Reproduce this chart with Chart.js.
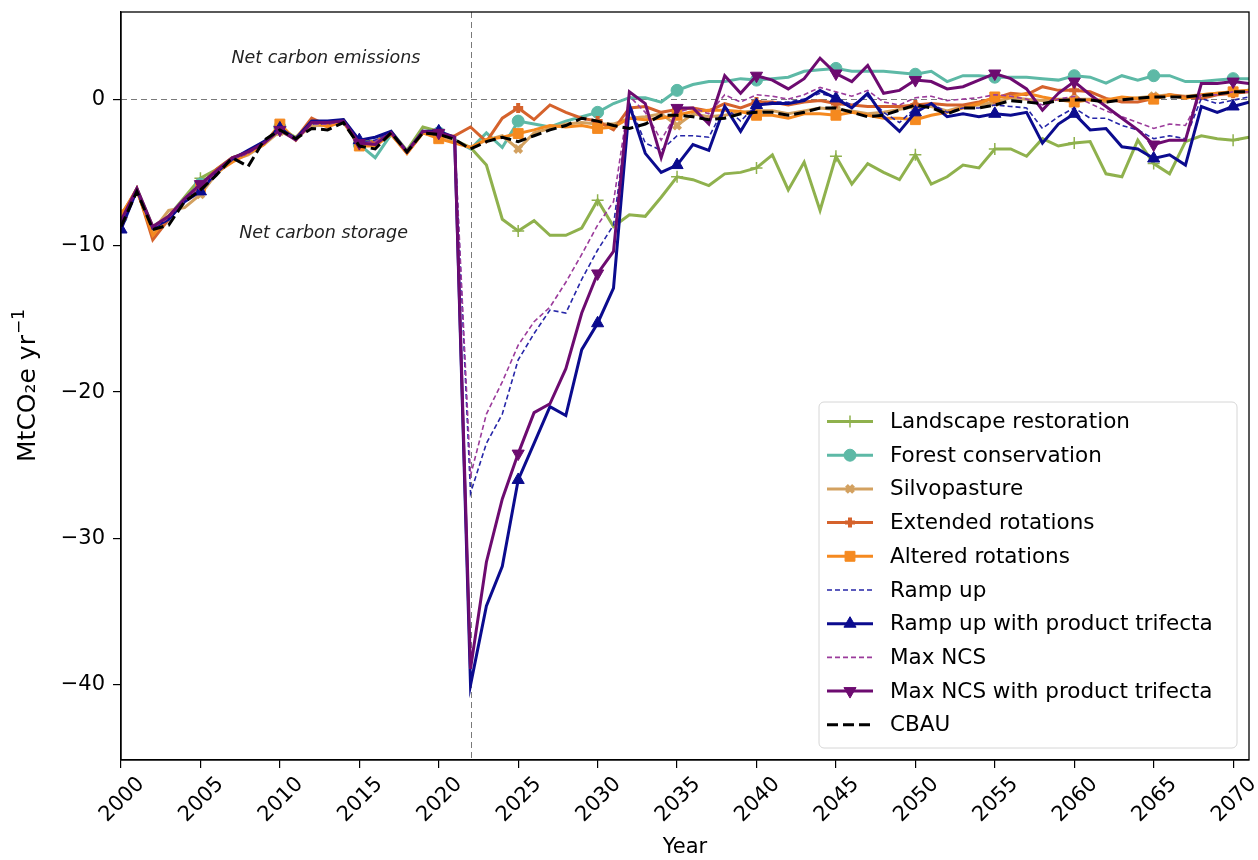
<!DOCTYPE html>
<html>
<head>
<meta charset="utf-8">
<script src="https://cdn.jsdelivr.net/npm/chart.js@4/dist/chart.umd.min.js"></script>
<style>
  html, body { margin: 0; padding: 0; background: #fff; }
  #wrap { width: 1258px; height: 860px; }
</style>
</head>
<body>
<div id="wrap"><canvas id="c" width="1258" height="860"></canvas></div>
<script>
Chart.defaults.font.family = "'DejaVu Sans', sans-serif";
Chart.defaults.color = '#000';

const years = [2000,2001,2002,2003,2004,2005,2006,2007,2008,2009,2010,2011,2012,2013,2014,2015,2016,2017,2018,2019,
  2020,2021,2022,2023,2024,2025,2026,2027,2028,2029,2030,2031,2032,2033,2034,2035,2036,2037,2038,2039,
  2040,2041,2042,2043,2044,2045,2046,2047,2048,2049,2050,2051,2052,2053,2054,2055,2056,2057,2058,2059,
  2060,2061,2062,2063,2064,2065,2066,2067,2068,2069,2070,2071];
const xTicks = [2000,2005,2010,2015,2020,2025,2030,2035,2040,2045,2050,2055,2060,2065,2070];
const yTicks = [-40,-30,-20,-10,0];

const landscape = [-8.2,-6.1,-8.7,-8.0,-6.7,-5.4,-4.8,-4.0,-3.6,-2.9,-2.0,-2.6,-1.6,-1.7,-1.4,-2.9,-2.9,-2.2,-3.5,-1.9,-2.2,-2.8,
  -3.3,-4.5,-8.2,-9.0,-8.3,-9.3,-9.3,-8.8,-6.9,-8.7,-7.9,-8.0,-6.7,-5.3,-5.5,-5.9,-5.1,-5.0,
  -4.7,-3.8,-6.2,-4.3,-7.6,-3.9,-5.8,-4.4,-5.0,-5.5,-3.8,-5.8,-5.3,-4.5,-4.7,-3.4,-3.4,-3.9,-2.7,-3.2,
  -3.0,-2.9,-5.1,-5.3,-2.8,-4.4,-5.1,-2.9,-2.5,-2.7,-2.8,-2.6];
const forest = [-8.1,-6.2,-8.8,-8.0,-6.8,-5.8,-4.9,-4.1,-3.7,-3.0,-1.9,-2.7,-1.6,-1.7,-1.5,-3.1,-4.0,-2.4,-3.6,-2.2,-2.3,-2.8,
  -3.4,-2.3,-3.3,-1.5,-1.7,-1.9,-1.5,-1.2,-0.9,-0.3,0.1,0.1,-0.2,0.6,1.0,1.2,1.2,1.4,
  1.3,1.4,1.5,1.9,2.0,2.1,1.9,1.9,1.9,1.8,1.7,1.9,1.2,1.6,1.6,1.5,1.5,1.5,1.4,1.3,
  1.6,1.5,1.1,1.6,1.3,1.6,1.6,1.2,1.2,1.3,1.4,1.4];
const silvo = [-8.0,-6.3,-9.0,-7.6,-7.4,-6.5,-5.1,-4.2,-3.8,-3.1,-2.2,-2.7,-1.8,-1.8,-1.6,-3.1,-3.0,-2.4,-3.6,-2.3,-2.4,-2.9,
  -3.3,-2.8,-2.5,-3.4,-2.3,-2.0,-1.7,-1.6,-1.7,-1.7,-1.3,-1.2,-1.0,-1.8,-1.0,-1.2,-1.1,-0.9,
  -0.8,-0.8,-1.0,-0.8,-0.6,-0.7,-0.8,-1.0,-0.9,-0.7,-0.5,-0.5,-0.8,-0.5,-0.4,-0.2,0.1,0.0,-0.1,0.0,
  0.0,0.0,-0.2,0.0,0.1,0.2,0.3,0.2,0.3,0.4,0.5,0.6];
const extended = [-8.0,-6.1,-9.6,-8.2,-6.8,-5.9,-4.8,-4.0,-3.7,-3.0,-2.0,-2.7,-1.3,-1.8,-1.5,-3.0,-2.9,-2.3,-3.7,-2.3,-2.6,-2.5,
  -1.9,-2.9,-1.3,-0.6,-1.4,-0.4,-0.9,-1.3,-1.5,-2.1,-0.6,-0.5,-0.9,-0.7,-0.6,-0.8,-0.3,-0.6,
  -0.2,-0.2,-0.4,-0.2,-0.1,-0.3,-0.4,-0.5,-0.5,-0.5,-0.4,-0.3,-0.4,-0.4,-0.2,0.05,0.4,0.3,0.85,0.6,
  0.6,0.5,0.05,-0.2,-0.2,0.05,0.3,0.15,0.05,0.3,0.4,0.5];
const altered = [-7.9,-6.2,-9.3,-8.0,-6.9,-6.0,-5.0,-4.3,-3.7,-3.1,-1.7,-2.8,-1.5,-1.9,-1.5,-3.2,-3.2,-2.4,-3.7,-2.3,-2.7,-3.0,
  -3.3,-2.75,-2.6,-2.35,-2.1,-1.8,-1.9,-1.8,-2.0,-1.9,-1.3,-1.4,-1.3,-1.1,-0.85,-0.75,-0.75,-0.85,
  -1.1,-1.1,-1.3,-1.0,-1.0,-1.1,-0.9,-1.1,-1.3,-1.3,-1.4,-1.1,-0.9,-0.6,-0.3,0.15,0.15,0.4,0.15,-0.05,
  -0.2,-0.05,-0.05,0.15,0.05,0.0,0.3,0.05,0.3,0.4,0.5,0.6];
const rampUp = [-8.4,-6.2,-8.8,-8.1,-6.9,-6.0,-5.0,-4.1,-3.7,-3.0,-2.1,-2.7,-1.7,-1.7,-1.5,-3.0,-2.8,-2.3,-3.6,-2.2,-2.3,-2.6,
  -26.9,-23.5,-21.5,-17.8,-16.0,-14.4,-14.6,-12.3,-10.3,-8.6,-0.3,-3.0,-3.5,-2.5,-2.5,-2.6,-0.5,-1.5,
  -0.4,-0.2,-0.2,0.0,0.4,0.1,-0.4,0.2,-0.9,-1.6,-0.6,-0.3,-0.9,-0.6,-0.6,-0.4,-0.5,-0.6,-2.0,-1.2,
  -0.6,-1.3,-1.3,-1.8,-2.1,-2.7,-2.5,-2.7,0.05,-0.3,-0.07,0.15];
const rampUpTri = [-8.9,-6.2,-8.8,-8.2,-7.0,-6.3,-5.0,-4.1,-3.5,-2.9,-2.0,-2.7,-1.5,-1.5,-1.4,-2.8,-2.6,-2.2,-3.6,-2.2,-2.2,-2.6,
  -40.0,-34.6,-31.9,-26.0,-23.5,-21.0,-21.6,-17.1,-15.3,-12.9,-0.4,-3.7,-5.0,-4.5,-3.1,-3.5,-0.5,-2.2,
  -0.4,-0.3,-0.3,-0.1,0.6,0.05,-0.6,0.4,-1.2,-2.2,-0.9,-0.3,-1.2,-1.0,-1.2,-1.0,-1.1,-0.9,-3.0,-1.7,
  -1.0,-2.1,-2.0,-3.25,-3.4,-4.05,-3.8,-4.5,-0.5,-0.9,-0.5,-0.2];
const maxNcs = [-8.3,-6.2,-8.8,-8.1,-6.9,-6.0,-5.0,-4.1,-3.7,-3.0,-2.1,-2.7,-1.7,-1.7,-1.5,-3.0,-2.9,-2.3,-3.6,-2.2,-2.3,-2.6,
  -25.7,-21.5,-19.3,-16.8,-15.2,-14.2,-12.5,-10.6,-8.6,-7.0,0.2,-0.9,-2.8,-0.9,-0.6,-1.0,0.3,-0.2,
  0.3,0.2,0.0,0.3,0.8,0.5,0.2,0.6,-0.2,-0.4,0.1,0.2,-0.1,0.0,0.1,0.3,0.2,0.0,-0.4,0.0,
  0.2,-0.3,-0.8,-1.2,-1.6,-2.0,-1.7,-1.8,0.3,0.3,0.5,0.5];
const maxNcsTri = [-8.3,-6.1,-8.7,-8.0,-6.8,-5.8,-4.9,-4.0,-3.6,-3.0,-2.1,-2.8,-1.6,-1.6,-1.5,-3.0,-3.1,-2.3,-3.6,-2.2,-2.3,-2.6,
  -38.9,-31.6,-27.3,-24.2,-21.4,-20.8,-18.4,-14.6,-11.9,-10.4,0.5,-0.3,-4.0,-0.6,-0.6,-1.7,1.6,0.4,
  1.6,1.3,0.7,1.4,2.8,1.75,1.2,2.3,0.4,0.6,1.3,1.2,0.7,0.85,1.3,1.75,1.4,0.7,-0.75,0.4,
  1.2,0.3,-0.5,-1.3,-2.1,-3.1,-2.8,-2.8,1.07,1.07,1.2,1.07];
const cbau = [-8.7,-6.3,-8.9,-8.6,-7.0,-6.2,-5.2,-4.0,-4.6,-2.8,-2.1,-2.7,-2.0,-2.1,-1.6,-3.2,-3.4,-2.3,-3.6,-2.3,-2.4,-2.75,
  -3.4,-2.9,-2.6,-2.9,-2.5,-2.1,-1.8,-1.3,-1.5,-1.8,-2.0,-1.7,-1.1,-1.1,-1.2,-1.4,-1.3,-1.0,
  -0.9,-0.9,-1.1,-0.9,-0.6,-0.6,-0.9,-1.2,-1.1,-0.75,-0.4,-0.6,-1.0,-0.6,-0.6,-0.4,-0.1,-0.2,-0.3,-0.1,
  -0.05,-0.05,-0.2,-0.05,0.05,0.15,0.15,0.15,0.25,0.35,0.5,0.5];

// label, values, colour, line width, dash, marker style, marker radius, rotation, marker border
const seriesDefs = [
  ['Landscape restoration', landscape, '#8fb14d', 3, [], 'cross', 6, 0, 1.5],
  ['Forest conservation', forest, '#5db9a6', 3, [], 'circle', 6, 0, 1],
  ['Silvopasture', silvo, '#d3a160', 3, [], 'crossRot', 5, 0, 4],
  ['Extended rotations', extended, '#d5622c', 3, [], 'cross', 5, 0, 4],
  ['Altered rotations', altered, '#f5891f', 3, [], 'rect', 7, 0, 1],
  ['Ramp up', rampUp, '#2626a8', 1.6, [5, 3], false, 0, 0, 0],
  ['Ramp up with product trifecta', rampUpTri, '#0b0b8e', 3, [], 'triangle', 7, 0, 1],
  ['Max NCS', maxNcs, '#9b3b9b', 1.6, [5, 3], false, 0, 0, 0],
  ['Max NCS with product trifecta', maxNcsTri, '#6d0b70', 3, [], 'triangle', 7, 180, 1],
  ['CBAU', cbau, '#000000', 3, [11, 5], false, 0, 0, 0],
];

const datasets = seriesDefs.map(([label, vals, color, w, dash, ps, r, rot, pbw], i) => ({
  label,
  data: vals.map((v, j) => ({ x: years[j], y: v })),
  borderColor: color,
  backgroundColor: color,
  borderWidth: w,
  borderDash: dash,
  pointStyle: ps || 'circle',
  pointRotation: rot,
  pointBorderWidth: pbw,
  pointBorderColor: color,
  pointBackgroundColor: color,
  pointRadius: ctx => (ps && years[ctx.dataIndex] % 5 === 0 ? r : 0),
  pointHoverRadius: 0,
  tension: 0,
  fill: false,
  order: seriesDefs.length - i,
}));

// ── Reference lines, frame, annotations, axis titles and legend ──────────────
const decor = {
  id: 'decor',
  beforeDatasetsDraw(chart) {
    const { ctx, chartArea: a, scales: { x, y } } = chart;
    ctx.save();
    ctx.strokeStyle = '#7a7a7a';
    ctx.lineWidth = 1;
    ctx.setLineDash([6, 4]);
    const y0 = Math.round(y.getPixelForValue(0)) + 0.5;
    const x0 = Math.round(x.getPixelForValue(2022)) + 0.5;
    ctx.beginPath(); ctx.moveTo(a.left, y0); ctx.lineTo(a.right, y0); ctx.stroke();
    ctx.beginPath(); ctx.moveTo(x0, a.top); ctx.lineTo(x0, a.bottom); ctx.stroke();
    ctx.setLineDash([]);
    ctx.fillStyle = '#222';
    ctx.font = "italic 17.5px 'DejaVu Sans'";
    ctx.textAlign = 'center';
    ctx.textBaseline = 'middle';
    ctx.fillText('Net carbon emissions', x.getPixelForValue(2012.9), y.getPixelForValue(2.8));
    ctx.fillText('Net carbon storage', x.getPixelForValue(2012.75), y.getPixelForValue(-9.15));
    ctx.restore();
  },
  afterDraw(chart) {
    const { ctx, chartArea: a } = chart;
    ctx.save();
    ctx.strokeStyle = '#000';
    ctx.lineWidth = 1.3;
    ctx.strokeRect(a.left, a.top, a.right - a.left, a.bottom - a.top);

    // axis titles
    ctx.fillStyle = '#000';
    ctx.font = "21px 'DejaVu Sans'";
    ctx.textAlign = 'center';
    ctx.textBaseline = 'middle';
    ctx.fillText('Year', (a.left + a.right) / 2, 848);

    ctx.save();
    ctx.translate(26, (a.top + a.bottom) / 2);
    ctx.rotate(-Math.PI / 2);
    ctx.textAlign = 'left';
    ctx.textBaseline = 'alphabetic';
    const mainFont = "25px 'DejaVu Sans'", supFont = "17px 'DejaVu Sans'";
    ctx.font = mainFont;
    const mainTxt = 'MtCO₂e yr', supTxt = '\u22121';
    const w1 = ctx.measureText(mainTxt).width;
    ctx.font = supFont;
    const w2 = ctx.measureText(supTxt).width;
    const sx = -(w1 + w2) / 2;
    ctx.font = mainFont;
    ctx.fillText(mainTxt, sx, 9);
    ctx.font = supFont;
    ctx.fillText(supTxt, sx + w1 + 1, -2);
    ctx.restore();

    // legend
    const bx = 819, by = 402, bw = 418, bh = 346, rr = 5;
    ctx.beginPath();
    ctx.moveTo(bx + rr, by);
    ctx.arcTo(bx + bw, by, bx + bw, by + bh, rr);
    ctx.arcTo(bx + bw, by + bh, bx, by + bh, rr);
    ctx.arcTo(bx, by + bh, bx, by, rr);
    ctx.arcTo(bx, by, bx + bw, by, rr);
    ctx.closePath();
    ctx.fillStyle = 'rgba(255,255,255,0.85)';
    ctx.fill();
    ctx.strokeStyle = '#d6d6d6';
    ctx.lineWidth = 1;
    ctx.stroke();

    ctx.textAlign = 'left';
    ctx.textBaseline = 'middle';
    ctx.font = "21.5px 'DejaVu Sans'";
    seriesDefs.forEach(([label, , color, w, dash, ps, r, rot, pbw], i) => {
      const ly = 421.5 + i * 33.7;
      ctx.strokeStyle = color;
      ctx.fillStyle = color;
      ctx.lineWidth = w;
      ctx.setLineDash(dash);
      ctx.beginPath(); ctx.moveTo(827, ly); ctx.lineTo(873, ly); ctx.stroke();
      ctx.setLineDash([]);
      if (ps) {
        ctx.lineWidth = pbw;
        Chart.helpers.drawPoint(ctx, { pointStyle: ps, radius: r, rotation: rot, borderWidth: pbw }, 850, ly);
      }
      ctx.fillStyle = '#000';
      ctx.fillText(label, 890, ly + 1);
    });
    ctx.restore();
  }
};

new Chart(document.getElementById('c'), {
  type: 'line',
  data: { datasets },
  options: {
    responsive: false,
    animation: false,
    devicePixelRatio: 1,
    layout: { padding: { top: 12, right: 8, left: 0, bottom: 0 } },
    plugins: { legend: { display: false }, tooltip: { enabled: false } },
    scales: {
      x: {
        type: 'linear',
        min: 2000,
        max: 2071,
        afterFit: s => { s.height = 100; s.paddingLeft = 0; s.paddingRight = 0; },
        afterBuildTicks: s => { s.ticks = xTicks.map(v => ({ value: v })); },
        grid: { drawOnChartArea: false, drawTicks: true, tickLength: 8, color: '#000', lineWidth: 1.2 },
        border: { display: true, color: '#000', width: 1.3 },
        ticks: {
          minRotation: 45, maxRotation: 45, padding: 4, labelOffset: 20,
          font: { size: 21 }, color: '#000',
          callback: v => String(v)
        }
      },
      y: {
        min: -45.12,
        max: 5.95,
        afterFit: s => { s.width = 121; s.paddingTop = 0; s.paddingBottom = 0; },
        afterBuildTicks: s => { s.ticks = yTicks.map(v => ({ value: v })); },
        grid: { drawOnChartArea: false, drawTicks: true, tickLength: 8, color: '#000', lineWidth: 1.2 },
        border: { display: true, color: '#000', width: 1.3 },
        ticks: {
          padding: 8, font: { size: 21 }, color: '#000',
          callback: v => (v < 0 ? '\u2212' + Math.abs(v) : String(v))
        }
      }
    }
  },
  plugins: [decor]
});
</script>
</body>
</html>
